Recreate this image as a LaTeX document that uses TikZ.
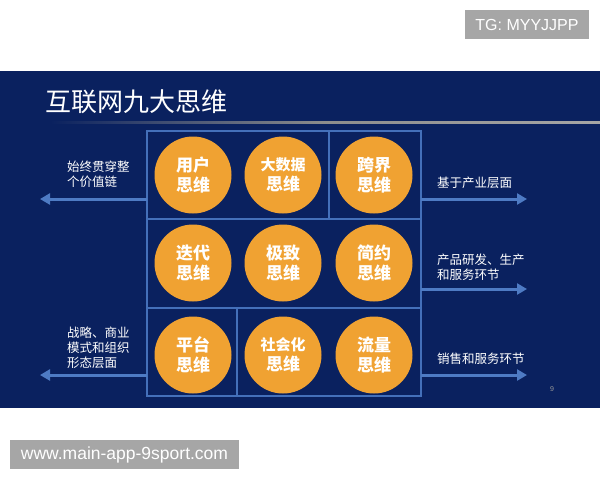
\documentclass[tikz,border=0pt]{standalone}
\usepackage{fontspec}
\newfontfamily\cjk{Noto Sans CJK SC}
\setmainfont{Liberation Sans}
\usetikzlibrary{arrows.meta}
\definecolor{navy}{HTML}{0A215F}
\definecolor{gridc}{HTML}{4470BA}
\definecolor{arrc}{HTML}{4E7BC4}
\definecolor{orng}{HTML}{F0A232}
\definecolor{wmgray}{HTML}{A6A6A6}
\newcommand{\smline}[1]{{\fontsize{15}{20}\selectfont #1}}
\tikzset{
  thinker/.style={circle, fill=orng, minimum size=77pt, inner sep=0pt, text=white, align=center, font=\cjk\bfseries\fontsize{17}{20}\selectfont},
  gridline/.style={draw=gridc, line width=1.3pt},
  flowarrow/.style={draw=arrc, line width=3pt, -{Triangle[length=10pt,width=11pt]}},
  sidelabel/.style={inner sep=0pt, text=white, align=left, anchor=west, font=\cjk\fontsize{12.5}{15}\selectfont},
  wmbox/.style={fill=wmgray, text=white, inner sep=0pt}
}
\begin{document}
\begin{tikzpicture}[x=1pt,y=-1pt]
\useasboundingbox (0,0) rectangle (600,480);
\fill[white] (0,0) rectangle (600,480);
% blue panel
\fill[navy] (0,71) rectangle (600,408);
% title
\node[anchor=west, inner sep=0pt, text=white, font=\cjk\fontsize{26}{28}\selectfont] (title) at (45,102) {互联网九大思维};
\shade[left color=navy, right color=gray!70, middle color=gray!90] (50,121) rectangle (600,123.2);
% grid
\draw[gridline] (147,131) rectangle (421,396);
\draw[gridline] (147,219) -- (421,219);
\draw[gridline] (147,308) -- (421,308);
\draw[gridline] (329,131) -- (329,219);
\draw[gridline] (237,308) -- (237,396);
% circles
\node[thinker] (c11) at (193,175) {用户\\思维};
\node[thinker] (c12) at (283,175) {\smline{大数据}\\思维};
\node[thinker] (c13) at (374,175) {跨界\\思维};
\node[thinker] (c21) at (193,263) {迭代\\思维};
\node[thinker] (c22) at (283,263) {极致\\思维};
\node[thinker] (c23) at (374,263) {简约\\思维};
\node[thinker] (c31) at (193,355) {平台\\思维};
\node[thinker] (c32) at (283,355) {\smline{社会化}\\思维};
\node[thinker] (c33) at (374,355) {流量\\思维};
% arrow endpoints
\coordinate (la1s) at (147,199); \coordinate (la1e) at (40,199);
\coordinate (la2s) at (147,375); \coordinate (la2e) at (40,375);
\coordinate (ra1s) at (421,199); \coordinate (ra1e) at (527,199);
\coordinate (ra2s) at (421,289); \coordinate (ra2e) at (527,289);
\coordinate (ra3s) at (421,375); \coordinate (ra3e) at (527,375);
\draw[flowarrow] (la1s) -- (la1e);
\draw[flowarrow] (la2s) -- (la2e);
\draw[flowarrow] (ra1s) -- (ra1e);
\draw[flowarrow] (ra2s) -- (ra2e);
\draw[flowarrow] (ra3s) -- (ra3e);
% labels
\node[sidelabel] (l1) at (67,174.5) {始终贯穿整\\个价值链};
\node[sidelabel] (l2) at (67,348) {战略、商业\\模式和组织\\形态层面};
\node[sidelabel] (r1) at (437,183) {基于产业层面};
\node[sidelabel] (r2) at (437,267) {产品研发、生产\\和服务环节};
\node[sidelabel] (r3) at (437,359) {销售和服务环节};
\node[inner sep=0pt, text=gray!80, font=\fontsize{7}{8}\selectfont] (pg) at (552,389) {9};
% watermarks
\node[wmbox, minimum width=124pt, minimum height=29pt, font=\fontsize{16}{18}\selectfont] (wm1) at (527,24.5) {TG: MYYJJPP};
\node[wmbox, minimum width=229pt, minimum height=29pt, font=\fontsize{17.5}{19}\selectfont] (wm2) at (124.5,454.5) {www.main-app-9sport.com};
\end{tikzpicture}
\end{document}
